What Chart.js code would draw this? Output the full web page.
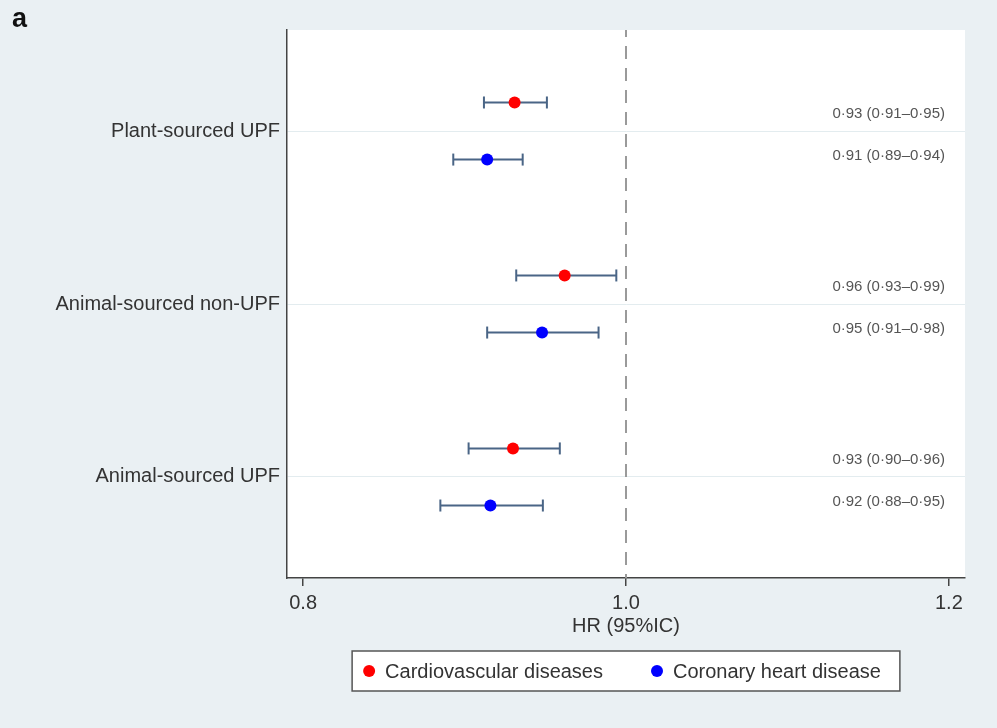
<!DOCTYPE html>
<html>
<head>
<meta charset="utf-8">
<script src="https://cdn.jsdelivr.net/npm/chart.js@4.4.1/dist/chart.umd.min.js"></script>
<style>
    html, body { margin: 0; padding: 0; background: #eaf0f3; }
    #wrap { position: relative; width: 997px; height: 728px; }
    #panel { position: absolute; left: 12px; top: 3px; font: bold 27px "Liberation Sans", Arial, sans-serif; color: #111; }
</style>
</head>
<body>
<div id="wrap">
    <canvas id="mainChart" width="997" height="728"></canvas>
    <div id="panel">a</div>
</div>
<script>
// Data
const categories = ['Plant-sourced UPF', 'Animal-sourced non-UPF', 'Animal-sourced UPF'];
const seriesNames = ['Cardiovascular diseases', 'Coronary heart disease'];

const cvdHR   = [0.931, 0.962, 0.930];
const cvdLow  = [0.912, 0.932, 0.9025];
const cvdHigh = [0.951, 0.994, 0.959];

const chdHR   = [0.914, 0.948, 0.916];
const chdLow  = [0.893, 0.914, 0.885];
const chdHigh = [0.936, 0.983, 0.9485];

const cvdText = ['0\u00b793 (0\u00b791\u20130\u00b795)', '0\u00b796 (0\u00b793\u20130\u00b799)', '0\u00b793 (0\u00b790\u20130\u00b796)'];
const chdText = ['0\u00b791 (0\u00b789\u20130\u00b794)', '0\u00b795 (0\u00b791\u20130\u00b798)', '0\u00b792 (0\u00b788\u20130\u00b795)'];

const xTicks = [0.8, 1.0, 1.2];
const refHR = 1.0;

const FONT = '"Liberation Sans", Arial, sans-serif';
const RED = '#ff0000';
const BLUE = '#0000ff';
const BAR = '#4a6586';
const OFFSET = 0.165;   // vertical offset of each series around its category

// Build datasets
function pointData(values, dir) {
    return values.map((v, i) => ({ x: v, y: i + 1 + dir * OFFSET }));
}

const datasets = [
    { type: 'scatter', label: seriesNames[0], data: pointData(cvdHR, -1), backgroundColor: RED, borderWidth: 0, pointRadius: 6, pointHoverRadius: 6, order: 0 },
    { type: 'scatter', label: seriesNames[1], data: pointData(chdHR, 1), backgroundColor: BLUE, borderWidth: 0, pointRadius: 6, pointHoverRadius: 6, order: 0 }
];

function addWhiskers(lows, highs, dir) {
    lows.forEach((lo, i) => {
        const y = i + 1 + dir * OFFSET;
        datasets.push({
            type: 'line', label: '', data: [{ x: lo, y: y }, { x: highs[i], y: y }],
            borderColor: BAR, borderWidth: 2, showLine: true,
            pointStyle: 'line', rotation: 90, pointRadius: 6, pointHoverRadius: 6,
            pointBorderColor: BAR, pointBorderWidth: 2, order: 1
        });
    });
}
addWhiskers(cvdLow, cvdHigh, -1);
addWhiskers(chdLow, chdHigh, 1);

// dashed reference line at HR = 1
datasets.push({
    type: 'line', label: '', data: [{ x: refHR, y: 0 }, { x: refHR, y: 4 }],
    borderColor: '#9a9a9a', borderWidth: 2, borderDash: [13, 9], pointRadius: 0, order: 2
});

// White plot background
const plotBackground = {
    id: 'plotBackground',
    beforeDraw(chart) {
        const { ctx, chartArea: a } = chart;
        ctx.save();
        ctx.fillStyle = '#ffffff';
        ctx.fillRect(a.left, a.top, a.right - a.left, a.bottom - a.top);
        ctx.restore();
    }
};

// HR (95% CI) text on the right side
const hrLabels = {
    id: 'hrLabels',
    afterDatasetsDraw(chart) {
        const { ctx, chartArea: a, scales } = chart;
        ctx.save();
        ctx.font = '15px ' + FONT;
        ctx.fillStyle = '#555555';
        ctx.textAlign = 'right';
        ctx.textBaseline = 'middle';
        const xr = a.right - 20;
        categories.forEach((c, i) => {
            ctx.fillText(cvdText[i], xr, scales.y.getPixelForValue(i + 1 - 0.098));
            ctx.fillText(chdText[i], xr, scales.y.getPixelForValue(i + 1 + 0.142));
        });
        ctx.restore();
    }
};

// Boxed legend below the axis title
const boxLegend = {
    id: 'boxLegend',
    afterDraw(chart) {
        const { ctx, chartArea: a, scales } = chart;
        const colors = [RED, BLUE];
        ctx.save();
        ctx.font = '20px ' + FONT;
        const gap = 16, itemGap = 54, r = 6, padL = 17, padR = 19;
        const widths = seriesNames.map(n => gap + ctx.measureText(n).width);
        const total = padL + widths[0] + itemGap + widths[1] + padR;
        const left = (a.left + a.right) / 2 - total / 2;
        const top = scales.x.bottom + 11;
        const h = 40;
        ctx.fillStyle = '#ffffff';
        ctx.fillRect(left, top, total, h);
        ctx.strokeStyle = '#555555';
        ctx.lineWidth = 1.5;
        ctx.strokeRect(left, top, total, h);
        let x = left + padL;
        const cy = top + h / 2;
        seriesNames.forEach((n, i) => {
            ctx.beginPath();
            ctx.fillStyle = colors[i];
            ctx.arc(x, cy, r, 0, Math.PI * 2);
            ctx.fill();
            ctx.fillStyle = '#333333';
            ctx.textAlign = 'left';
            ctx.textBaseline = 'middle';
            ctx.fillText(n, x + gap, cy + 1);
            x += widths[i] + itemGap;
        });
        ctx.restore();
    }
};

new Chart(document.getElementById('mainChart'), {
    data: { datasets: datasets },
    options: {
        responsive: false,
        animation: false,
        layout: { padding: { top: 30, right: 32, bottom: 88, left: 0 } },
        plugins: {
            legend: { display: false },
            tooltip: { enabled: false }
        },
        scales: {
            x: {
                type: 'linear',
                min: 0.79,
                max: 1.21,
                afterBuildTicks: scale => { scale.ticks = xTicks.map(v => ({ value: v })); },
                afterFit: scale => { scale.height = 62; },
                ticks: {
                    callback: v => Number(v).toFixed(1),
                    font: { family: FONT, size: 20 },
                    color: '#333333',
                    padding: 5,
                    maxRotation: 0
                },
                grid: { drawOnChartArea: false, drawTicks: true, tickLength: 8, color: '#444444', lineWidth: 1.5 },
                border: { color: '#444444', width: 1.5 },
                title: {
                    display: true,
                    text: 'HR (95%IC)',
                    font: { family: FONT, size: 20 },
                    color: '#333333',
                    padding: { top: 0, bottom: 2 }
                }
            },
            y: {
                type: 'linear',
                reverse: true,
                min: 0.416,
                max: 3.584,
                afterBuildTicks: scale => { scale.ticks = categories.map((c, i) => ({ value: i + 1 })); },
                afterFit: scale => { scale.width = 287; },
                ticks: {
                    callback: v => categories[Math.round(v) - 1],
                    font: { family: FONT, size: 20 },
                    color: '#333333',
                    padding: 7
                },
                grid: { drawTicks: false, color: '#e3ecef', lineWidth: 1 },
                border: { color: '#444444', width: 1.5 }
            }
        }
    },
    plugins: [plotBackground, hrLabels, boxLegend]
});
</script>
</body>
</html>
